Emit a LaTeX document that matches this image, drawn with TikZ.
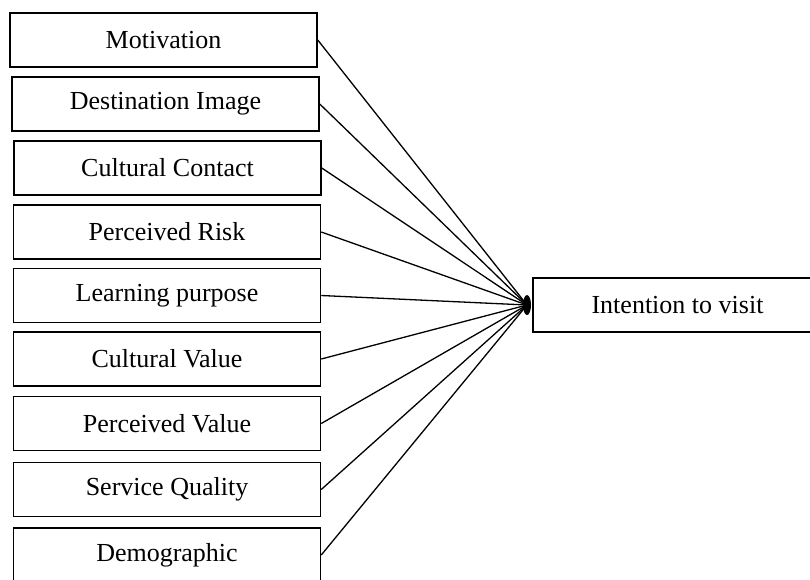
\documentclass[tikz,border=0pt]{standalone}
\usepackage{fontspec}
\setmainfont{Liberation Serif}
\usepackage{tikz}

\begin{document}
\begin{tikzpicture}[x=1pt, y=-1pt,
  factor/.style={draw, line width=1.5pt, minimum width=307pt, minimum height=54pt,
    inner sep=0pt, font=\fontsize{26}{30}\selectfont},
  link/.style={line width=1.3pt}]
\clip (0,0) rectangle (810,579);
% LEFT COLUMN: the nine factors
\node[factor] (mot) at (163.5, 40) {Motivation};
\node[factor] (dimg) at (165.5, 104) {Destination Image};
\node[factor] (ccon) at (167.5, 168) {Cultural Contact};
\node[factor] (prisk) at (167, 232) {Perceived Risk};
\node[factor] (learn) at (167, 295.5) {Learning purpose};
\node[factor] (cval) at (167, 359) {Cultural Value};
\node[factor] (pval) at (167, 423.5) {Perceived Value};
\node[factor] (squal) at (167, 489.5) {Service Quality};
\node[factor] (demo) at (167, 555) {Demographic};
% RIGHT: outcome
\node[factor, minimum width=289pt] (intent) at (677.5, 305) {Intention to visit};
\coordinate (conv) at (527, 305);
% CONNECTORS
\foreach \f in {mot,dimg,ccon,prisk,learn,cval,pval,squal,demo}
  \draw[link] (\f.east) -- (conv);
\fill (conv) ellipse (4pt and 10pt);
\end{tikzpicture}
\end{document}
